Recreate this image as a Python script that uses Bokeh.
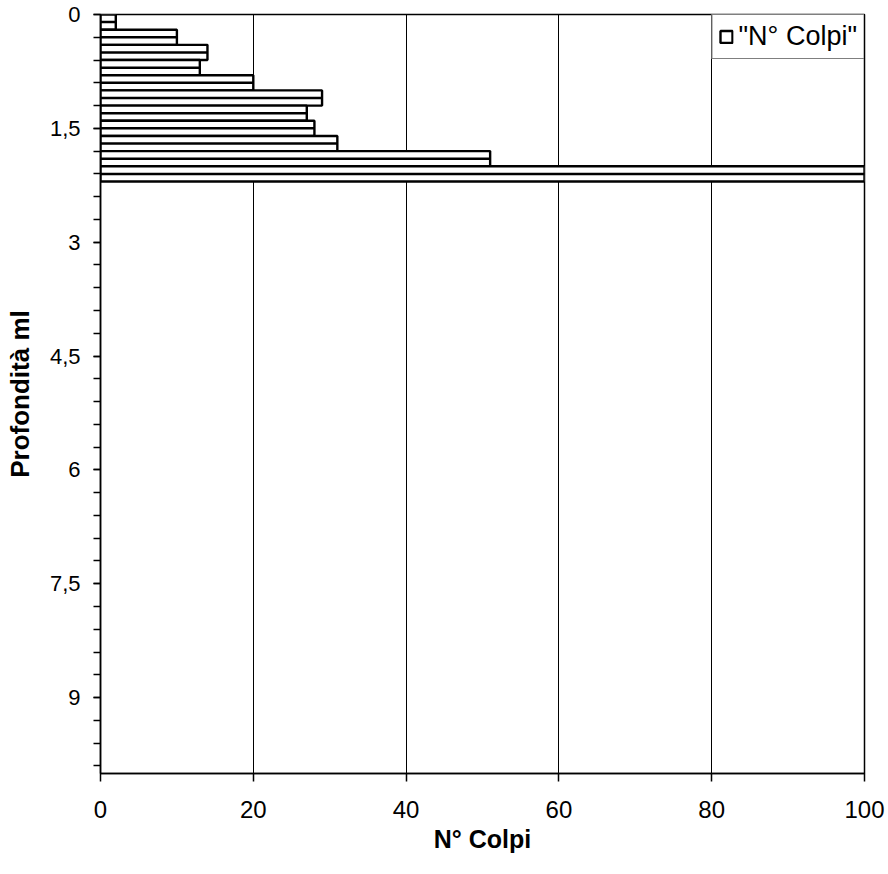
from bokeh.plotting import figure
from bokeh.models import (Range1d, FixedTicker, CustomJSTickFormatter, Legend, LegendItem,
                          ColumnDataSource)
from bokeh.embed import file_html
from bokeh.resources import INLINE

# ---- data ----
depth_top = [0.0, 0.2, 0.4, 0.6, 0.8, 1.0, 1.2, 1.4, 1.6, 1.8, 2.0]
step = 0.2
colpi = [2, 10, 14, 13, 20, 29, 27, 28, 31, 51, 100]
x_ticks = [0, 20, 40, 60, 80, 100]
y_major = [0, 1.5, 3, 4.5, 6, 7.5, 9]
y_minor_step = 0.3
legend_label = '"N° Colpi"'
x_title = "N° Colpi"
y_title = "Profondità ml"

mid = [d + step / 2 for d in depth_top]
src = ColumnDataSource(dict(y=mid, right=colpi, left=[0] * len(colpi)))

FONT = "Liberation Sans"

p = figure(width=886, height=866, output_backend="svg", toolbar_location=None,
           x_range=Range1d(0, 100), y_range=Range1d(10, 0),
           min_border_left=100, min_border_right=22, min_border_top=14, min_border_bottom=93)
p.background_fill_color = "white"
p.border_fill_color = "white"
p.outline_line_color = "black"
p.outline_line_width = 1.5

bars = p.hbar(y="y", left="left", right="right", height=step, source=src,
              fill_color="white", line_color="black", line_width=2.4)
p.segment(x0="left", y0="y", x1="right", y1="y", source=src,
          line_color="black", line_width=2.5)

# grid
p.ygrid.grid_line_color = None
p.xgrid.ticker = FixedTicker(ticks=x_ticks)
p.xgrid.grid_line_color = "black"
p.xgrid.grid_line_width = 1

# x axis
xa = p.xaxis[0]
xa.ticker = FixedTicker(ticks=x_ticks, minor_ticks=[])
xa.axis_label = x_title
xa.axis_label_text_font = FONT
xa.axis_label_text_font_style = "bold"
xa.axis_label_text_font_size = "25px"
xa.axis_label_text_color = "black"
xa.axis_label_standoff = 4
xa.major_label_text_font = FONT
xa.major_label_text_font_size = "24px"
xa.major_label_text_color = "black"
xa.major_label_standoff = 19
xa.major_tick_out = 8
xa.major_tick_in = 0
xa.axis_line_width = 1.5
xa.axis_line_color = "black"
xa.major_tick_line_width = 1.5
xa.major_tick_line_color = "black"

# y axis
ya = p.yaxis[0]
minor = [round(i * y_minor_step, 2) for i in range(34)]
ya.ticker = FixedTicker(ticks=y_major, minor_ticks=minor)
ya.formatter = CustomJSTickFormatter(code="return tick.toString().replace('.', ',');")
ya.axis_label = y_title
ya.axis_label_text_font = FONT
ya.axis_label_text_font_style = "bold"
ya.axis_label_text_font_size = "26px"
ya.axis_label_text_color = "black"
ya.axis_label_standoff = 12
ya.major_label_text_font = FONT
ya.major_label_text_font_size = "22px"
ya.major_label_text_color = "black"
ya.major_label_standoff = 13
ya.major_tick_out = 7
ya.major_tick_in = 0
ya.minor_tick_out = 7
ya.minor_tick_in = 0
ya.minor_tick_line_color = "black"
ya.major_tick_line_color = "black"
ya.axis_line_color = "black"
ya.axis_line_width = 1.5
ya.major_tick_line_width = 1.5
ya.minor_tick_line_width = 1.5

legend = Legend(items=[LegendItem(label=legend_label, renderers=[bars])],
                location="top_right", margin=0, padding=6, label_standoff=5,
                glyph_width=15, glyph_height=15,
                label_text_font=FONT, label_text_font_size="27px",
                label_text_color="black",
                border_line_color="black", border_line_width=1.5,
                background_fill_color="white", background_fill_alpha=1)
p.add_layout(legend)

open("out.html", "w").write(file_html(p, INLINE))
